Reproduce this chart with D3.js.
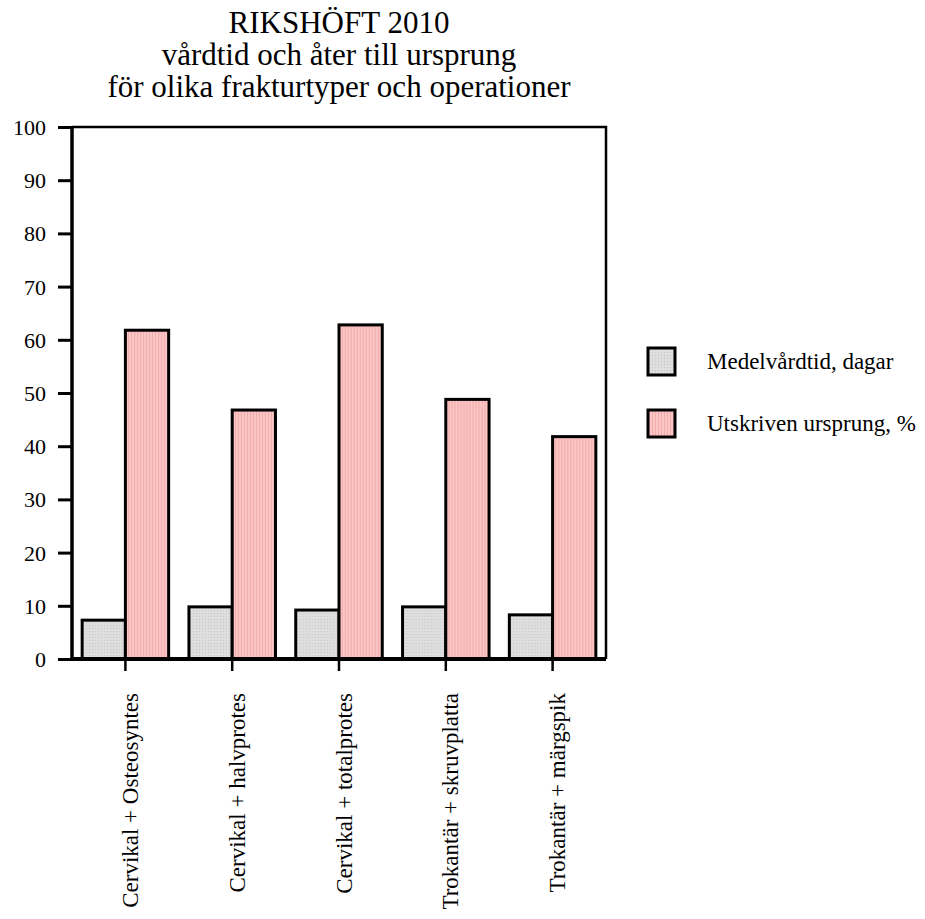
<!DOCTYPE html>
<html>
<head>
<meta charset="utf-8">
<script src="https://cdn.jsdelivr.net/npm/d3@7"></script>
<style>
  html, body { margin: 0; padding: 0; background: #fff; }
  svg text { font-family: "Liberation Serif", "Times New Roman", serif; fill: #000; }
</style>
</head>
<body>
<svg id="chart" width="925" height="919"></svg>
<script>
// Chart data
const titleLines = ["RIKSHÖFT 2010", "vårdtid och åter till ursprung", "för olika frakturtyper och operationer"];
const categories = ["Cervikal + Osteosyntes", "Cervikal + halvprotes", "Cervikal + totalprotes", "Trokantär + skruvplatta", "Trokantär + märgspik"];
const seriesNames = ["Medelvårdtid, dagar", "Utskriven ursprung, %"];
const medelvardtid = [7.3, 9.8, 9.2, 9.8, 8.3];
const utskrivenUrsprung = [61.8, 46.8, 62.8, 48.8, 41.8];
const yTicks = [0, 10, 20, 30, 40, 50, 60, 70, 80, 90, 100];

const seriesValues = [medelvardtid, utskrivenUrsprung];
const rows = categories.map((c, i) => ({
  category: c,
  values: seriesNames.map((s, j) => ({ series: s, value: seriesValues[j][i] }))
}));

const svg = d3.select("#chart");
const margin = { left: 72, right: 606, top: 127, bottom: 659 };

// Fill patterns: dotted grey and vertically striped pink
const defs = svg.append("defs");
const pGrey = defs.append("pattern").attr("id", "pat-grey")
  .attr("patternUnits", "userSpaceOnUse").attr("width", 3).attr("height", 3);
pGrey.append("rect").attr("width", 3).attr("height", 3).attr("fill", "#dedede");
pGrey.append("rect").attr("x", 1).attr("y", 1).attr("width", 1).attr("height", 1).attr("fill", "#c6c6c6");

const pPink = defs.append("pattern").attr("id", "pat-pink")
  .attr("patternUnits", "userSpaceOnUse").attr("width", 3).attr("height", 3);
pPink.append("rect").attr("width", 3).attr("height", 3).attr("fill", "#fac6c6");
pPink.append("rect").attr("x", 1).attr("width", 1).attr("height", 3).attr("fill", "#f2aaaa");

const fills = { [seriesNames[0]]: "url(#pat-grey)", [seriesNames[1]]: "url(#pat-pink)" };

// Scales
const x0 = d3.scaleBand().domain(categories).range([margin.left, margin.right])
  .paddingInner(0.19).paddingOuter(0.095);
const x1 = d3.scaleBand().domain(seriesNames).range([0, x0.bandwidth()]).padding(0);
const y = d3.scaleLinear().domain([0, 100]).range([margin.bottom, margin.top]);

// Title
const title = svg.append("text").attr("text-anchor", "middle").style("font-size", "31px");
titleLines.forEach((t, i) => {
  title.append("tspan").attr("x", (margin.left + margin.right) / 2).attr("y", 33 + i * 32).text(t);
});

// Frame: top and right edges
svg.append("path")
  .attr("d", `M${margin.left},${margin.top}H${margin.right}V${margin.bottom}`)
  .attr("fill", "none").attr("stroke", "#000").attr("stroke-width", 2.5);

// Bars
const groups = svg.append("g").selectAll("g").data(rows).join("g")
  .attr("transform", d => `translate(${x0(d.category)},0)`);
groups.selectAll("rect").data(d => d.values).join("rect")
  .attr("x", d => x1(d.series))
  .attr("y", d => y(d.value))
  .attr("width", x1.bandwidth())
  .attr("height", d => y(0) - y(d.value))
  .attr("fill", d => fills[d.series])
  .attr("stroke", "#000")
  .attr("stroke-width", 3);

// Y axis
const yAxis = svg.append("g").attr("transform", `translate(${margin.left},0)`)
  .call(d3.axisLeft(y).tickValues(yTicks).tickFormat(d3.format("d")).tickSize(14).tickPadding(12));
yAxis.select(".domain").attr("stroke-width", 3.5).attr("d", `M0,${margin.top}V${margin.bottom}`);
yAxis.selectAll(".tick line").attr("stroke-width", 3);
yAxis.selectAll(".tick text").style("font-size", "22px").attr("dy", "0.34em");

// X axis
const xAxis = svg.append("g").attr("transform", `translate(0,${margin.bottom})`)
  .call(d3.axisBottom(x0).tickSize(12).tickSizeOuter(0));
xAxis.select(".domain").attr("stroke-width", 4).attr("d", `M${margin.left},0H${margin.right}`);
xAxis.selectAll(".tick line").attr("stroke-width", 2.5);
xAxis.selectAll(".tick text")
  .style("font-size", "23px")
  .attr("text-anchor", "end")
  .attr("transform", "rotate(-90)")
  .attr("x", -34).attr("y", 0).attr("dy", "0.55em");

// Legend
const legend = svg.append("g").selectAll("g").data(seriesNames).join("g")
  .attr("transform", (d, i) => `translate(648,${348 + i * 62})`);
legend.append("rect").attr("width", 27).attr("height", 27)
  .attr("fill", d => fills[d]).attr("stroke", "#000").attr("stroke-width", 3);
legend.append("text").attr("x", 59).attr("y", 21).style("font-size", "23px").text(d => d);
</script>
</body>
</html>
